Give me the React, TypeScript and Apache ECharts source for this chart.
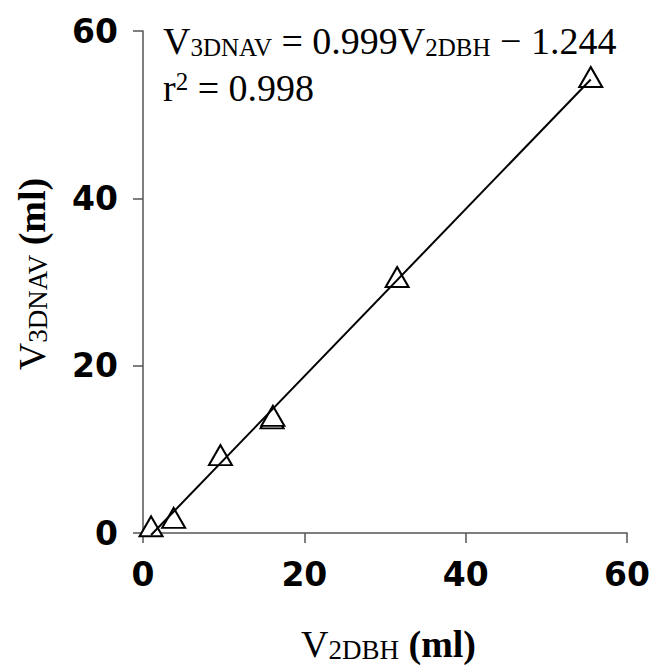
import React, { useEffect, useRef } from "react";
import * as echarts from "echarts";

const xValues = [1.0, 3.8, 9.6, 16.0, 16.1, 31.5, 55.5];
const yValues = [0.8, 1.8, 9.3, 13.7, 14.0, 30.6, 54.5];
const slope = 0.999;
const intercept = -1.244;
const rSquared = "0.998";
const tickValues = [0, 20, 40, 60];

const serif = "'Liberation Serif', 'Times New Roman', serif";

export default function App() {
  const ref = useRef<HTMLDivElement>(null);
  useEffect(() => {
    if (!ref.current) return;
    const chart = echarts.init(ref.current, null, { renderer: "svg" });
    const xMin = Math.min(...xValues);
    const xMax = Math.max(...xValues);
    const trend = [
      [xMin, slope * xMin + intercept],
      [xMax, slope * xMax + intercept],
    ];
    const axisCommon = {
      type: "value" as const,
      min: tickValues[0],
      max: tickValues[tickValues.length - 1],
      interval: 20,
      splitLine: { show: false },
      axisLine: { show: true, lineStyle: { color: "#555", width: 1.5 } },
      axisTick: { show: true, length: 10, lineStyle: { color: "#555", width: 1.5 } },
      axisLabel: {
        fontFamily: "'DejaVu Sans', sans-serif",
        fontWeight: "bold" as const,
        fontSize: 33,
        color: "#000",
        margin: 25,
      },
    };
    const nameRich = {
      v: { fontFamily: serif, fontSize: 38, lineHeight: 38, verticalAlign: "bottom", color: "#000" },
      s: { fontFamily: serif, fontSize: 27, lineHeight: 21, verticalAlign: "bottom", color: "#000" },
      b: { fontFamily: serif, fontSize: 38, lineHeight: 38, fontWeight: "bold", verticalAlign: "bottom", color: "#000" },
    };
    const eqRich = {
      v: { fontFamily: serif, fontSize: 38, lineHeight: 38, verticalAlign: "bottom", color: "#000" },
      s: { fontFamily: serif, fontSize: 25, lineHeight: 20, verticalAlign: "bottom", color: "#000" },
      p: { fontFamily: serif, fontSize: 25, lineHeight: 25, verticalAlign: "top", color: "#000" },
    };
    chart.setOption({
      animation: false,
      backgroundColor: "#fff",
      grid: { left: 143, right: 25, top: 31, bottom: 136, containLabel: false },
      xAxis: {
        ...axisCommon,
        name: "{v|V}{s|2DBH}{b| (ml)}",
        nameLocation: "middle",
        nameGap: 92,
        nameTextStyle: { color: "#000", rich: nameRich, padding: [0, 0, 0, 7] },
      },
      yAxis: {
        ...axisCommon,
        name: "{v|V}{s|3DNAV}{b| (ml)}",
        nameLocation: "middle",
        nameGap: 92,
        nameTextStyle: { color: "#000", rich: nameRich, padding: [0, 0, 0, 16] },
      },
      graphic: [
        {
          type: "text",
          left: 163,
          top: 22,
          style: {
            text: `{v|V}{s|3DNAV}{v| = ${slope}V}{s|2DBH}{v| \u2212 ${Math.abs(intercept)}}`,
            rich: eqRich,
            fill: "#000",
          },
        },
        {
          type: "text",
          left: 163,
          top: 69,
          style: {
            text: `{v|r}{p|2}{v| = ${rSquared}}`,
            rich: eqRich,
            fill: "#000",
          },
        },
      ],
      series: [
        {
          type: "scatter",
          data: xValues.map((x, i) => [x, yValues[i]]),
          symbol: "triangle",
          symbolSize: [23, 20],
          itemStyle: { color: "#fff", borderColor: "#000", borderWidth: 2, opacity: 1 },
          z: 2,
        },
        {
          type: "line",
          data: trend,
          showSymbol: false,
          symbol: "none",
          clip: false,
          lineStyle: { color: "#000", width: 2 },
          z: 3,
        },
      ],
    });
    return () => chart.dispose();
  }, []);
  return (
    <div
      ref={ref}
      style={{ position: "absolute", left: 0, top: 0, width: 653, height: 669, background: "#fff" }}
    />
  );
}
